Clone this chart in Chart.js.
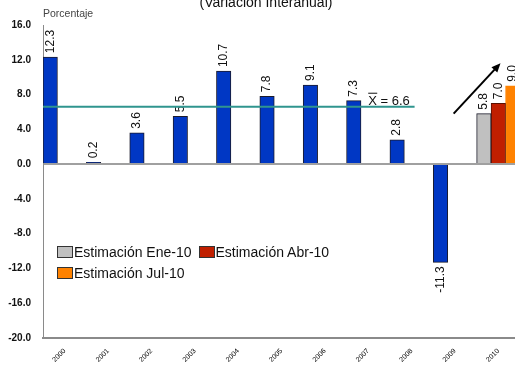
<!DOCTYPE html>
<html>
<head>
<meta charset="utf-8">
<script src="https://cdn.jsdelivr.net/npm/chart.js@4.4.1/dist/chart.umd.min.js"></script>
<style>
  html, body { margin: 0; padding: 0; background: #fff; overflow: hidden; }
  body { width: 515px; height: 368px; position: relative; font-family: 'Liberation Sans', Arial, sans-serif; }
  #grafica { position: absolute; left: 0; top: 0; }
  .titulo { position: absolute; left: 0; width: 532px; top: -5px; text-align: center; font-size: 14px; line-height: 14px; color: #111; }
  .unidad { position: absolute; left: 43px; top: 7px; font-size: 10.5px; color: #444; }
  .leyenda { position: absolute; left: 57px; top: 242px; font-size: 14px; color: #111; line-height: 21px; }
  .leyenda span.item { display: inline-block; margin-right: 7px; }
  .leyenda i { display: inline-block; width: 14px; height: 10px; border: 1px solid #333; vertical-align: -1px; margin-right: 1px; }
</style>
</head>
<body>
<canvas id="grafica" width="532" height="368"></canvas>
<div class="titulo">(Variación Interanual)</div>
<div class="unidad">Porcentaje</div>
<div class="leyenda" id="leyenda"></div>

<script>
const anios = ['2000', '2001', '2002', '2003', '2004', '2005', '2006', '2007', '2008', '2009', '2010'];
const crecimiento = [12.3, 0.2, 3.6, 5.5, 10.7, 7.8, 9.1, 7.3, 2.8, -11.3];
const estEne = 5.8;
const estAbr = 7.0;
const estJul = 9.0;
const promedio = 6.6;
const ticksY = [-20, -16, -12, -8, -4, 0, 4, 8, 12, 16];

const AZUL = '#0037c4';
const GRIS = '#c0c0c0';
const ROJO = '#c01f00';
const NARANJA = '#ff8200';
const VERDE = '#2f958e';
const FUENTE = "'Liberation Sans', Arial, sans-serif";

const vacios = anios.slice(0, -1).map(() => null);

// leyenda en html, solo las tres estimaciones
const series = [
    ['Estimación Ene-10', GRIS],
    ['Estimación Abr-10', ROJO],
    ['Estimación Jul-10', NARANJA]
];
const leyenda = document.getElementById('leyenda');
series.forEach((s, i) => {
    const el = document.createElement('span');
    el.className = 'item';
    el.innerHTML = '<i style="background:' + s[1] + '"></i>' + s[0];
    leyenda.appendChild(el);
    if (i === 1) leyenda.appendChild(document.createElement('br'));
});

// etiquetas verticales encima/debajo de cada barra
const etiquetas = {
    id: 'etiquetas',
    afterDatasetsDraw(chart) {
        const ctx = chart.ctx;
        ctx.save();
        ctx.font = '12px ' + FUENTE;
        ctx.fillStyle = '#111';
        ctx.textBaseline = 'middle';
        chart.data.datasets.forEach((ds, i) => {
            const meta = chart.getDatasetMeta(i);
            meta.data.forEach((bar, j) => {
                const v = ds.data[j];
                if (v === null) return;
                ctx.save();
                ctx.translate(bar.x, v >= 0 ? bar.y - 4 : bar.y + 4);
                ctx.rotate(-Math.PI / 2);
                ctx.textAlign = v >= 0 ? 'left' : 'right';
                ctx.fillText(v.toFixed(1), 0, 0);
                ctx.restore();
            });
        });
        ctx.restore();
    }
};

// linea del promedio y flecha de 2010
const anotaciones = {
    id: 'anotaciones',
    afterDatasetsDraw(chart) {
        const ctx = chart.ctx;
        const x = chart.scales.x;
        const y = chart.scales.y;
        const yp = y.getPixelForValue(promedio);

        ctx.save();
        ctx.strokeStyle = VERDE;
        ctx.lineWidth = 2;
        ctx.beginPath();
        ctx.moveTo(chart.chartArea.left, yp);
        ctx.lineTo(x.getPixelForValue(8) + 3, yp);
        ctx.stroke();

        ctx.font = '13px ' + FUENTE;
        ctx.fillStyle = '#111';
        ctx.textAlign = 'left';
        ctx.textBaseline = 'alphabetic';
        const xt = x.getPixelForValue(7);
        ctx.fillText('X = ' + promedio.toFixed(1), xt, yp - 2);
        ctx.strokeStyle = '#111';
        ctx.lineWidth = 1;
        ctx.beginPath();
        ctx.moveTo(xt, yp - 13.5);
        ctx.lineTo(xt + 9, yp - 13.5);
        ctx.stroke();

        const x0 = x.getPixelForValue(8.97), y0 = y.getPixelForValue(5.8);
        const x1 = x.getPixelForValue(10.05), y1 = y.getPixelForValue(11.6);
        const ang = Math.atan2(y1 - y0, x1 - x0);
        ctx.strokeStyle = '#000';
        ctx.fillStyle = '#000';
        ctx.lineWidth = 2;
        ctx.beginPath();
        ctx.moveTo(x0, y0);
        ctx.lineTo(x1 - 5 * Math.cos(ang), y1 - 5 * Math.sin(ang));
        ctx.stroke();
        ctx.beginPath();
        ctx.moveTo(x1, y1);
        ctx.lineTo(x1 - 9 * Math.cos(ang) + 4 * Math.sin(ang), y1 - 9 * Math.sin(ang) - 4 * Math.cos(ang));
        ctx.lineTo(x1 - 9 * Math.cos(ang) - 4 * Math.sin(ang), y1 - 9 * Math.sin(ang) + 4 * Math.cos(ang));
        ctx.closePath();
        ctx.fill();
        ctx.restore();
    }
};

new Chart(document.getElementById('grafica'), {
    type: 'bar',
    data: {
        labels: anios,
        datasets: [{
            label: 'Observado',
            data: crecimiento.concat([estEne]),
            backgroundColor: crecimiento.map(() => AZUL).concat([GRIS]),
            borderColor: '#1b1b2b',
            borderWidth: 1
        }, {
            label: 'Estimación Abr-10',
            data: vacios.concat([estAbr]),
            backgroundColor: ROJO,
            borderColor: '#5a1000',
            borderWidth: 1
        }, {
            label: 'Estimación Jul-10',
            data: vacios.concat([estJul]),
            backgroundColor: NARANJA,
            borderColor: NARANJA,
            borderWidth: 1
        }]
    },
    options: {
        responsive: false,
        animation: false,
        devicePixelRatio: 1,
        categoryPercentage: 1,
        barPercentage: 1,
        layout: { padding: { top: 25, right: 12, left: 0, bottom: 0 } },
        plugins: {
            legend: { display: false },
            tooltip: { enabled: false }
        },
        scales: {
            x: {
                grid: { display: false },
                border: { display: true, color: '#8a8a8a', width: 2 },
                ticks: {
                    autoSkip: false,
                    minRotation: 45,
                    maxRotation: 45,
                    padding: 1,
                    color: '#000',
                    font: { family: FUENTE, size: 7 }
                },
                afterFit(scale) { scale.height = 30; }
            },
            y: {
                min: -20,
                max: 16,
                afterBuildTicks(scale) { scale.ticks = ticksY.map(v => ({ value: v })); },
                grid: {
                    drawTicks: false,
                    color: c => c.tick && c.tick.value === 0 ? '#a0a0a0' : 'rgba(0,0,0,0)',
                    lineWidth: 2
                },
                border: { display: true, color: '#8a8a8a', width: 1 },
                ticks: {
                    padding: 12,
                    color: '#111',
                    font: { family: FUENTE, size: 10, weight: 'bold' },
                    callback: v => v.toFixed(1)
                },
                afterFit(scale) { scale.width = 43; }
            }
        }
    },
    plugins: [etiquetas, anotaciones]
});
</script>
</body>
</html>
